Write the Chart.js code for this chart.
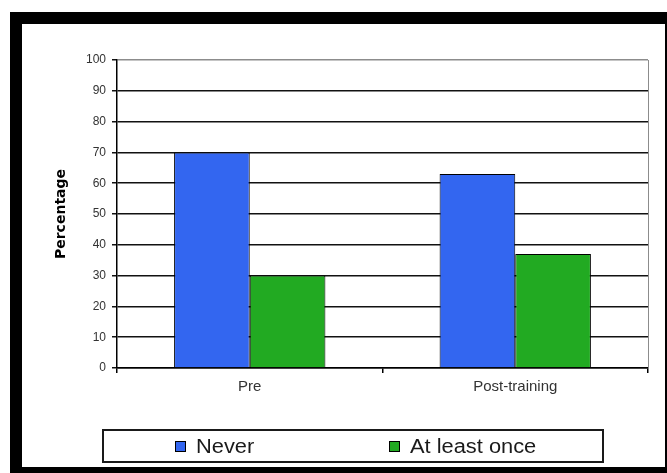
<!DOCTYPE html>
<html>
<head>
<meta charset="utf-8">
<script src="https://cdn.jsdelivr.net/npm/chart.js@4/dist/chart.umd.min.js"></script>
<style>
  html, body { margin: 0; padding: 0; background: #fff; }
  #frame {
    position: absolute; left: 10px; top: 12px;
    width: 643px; height: 443px;
    border-style: solid; border-color: #000;
    border-width: 12px 2px 6px 12px;
    background: #fff;
  }
  #wrap { position: relative; width: 643px; height: 443px; }
</style>
</head>
<body>
<div id="frame"><div id="wrap"><canvas id="c"></canvas></div></div>
<script>
const categories = ["Pre", "Post-training"];
const seriesNames = ["Never", "At least once"];
const neverValues = [70, 63];
const atLeastOnceValues = [30, 37];
const yAxisTitle = "Percentage";
const yMin = 0, yMax = 100, yStep = 10;

const FONT = "'Liberation Sans', Arial, sans-serif";

const framePlugin = {
  id: 'framePlugin',
  afterDraw(chart) {
    const ctx = chart.ctx, a = chart.chartArea;
    ctx.save();
    ctx.strokeStyle = '#8c8c8c';
    ctx.lineWidth = 1;
    ctx.beginPath();
    ctx.moveTo(Math.round(a.right) + 0.5, a.top);
    ctx.lineTo(Math.round(a.right) + 0.5, a.bottom);
    ctx.stroke();

    const boxL = a.left - 14, boxR = a.right - 45;
    const boxT = a.bottom + 62, boxH = 32;
    ctx.strokeStyle = '#1a1a1a';
    ctx.lineWidth = 2;
    ctx.strokeRect(boxL, boxT, boxR - boxL, boxH);
    const offsets = [72, 286];
    chart.data.datasets.forEach((ds, i) => {
      const x = boxL + offsets[i];
      const cy = boxT + boxH / 2 + 1;
      ctx.fillStyle = ds.backgroundColor;
      ctx.fillRect(x, cy - 6, 11, 11);
      ctx.strokeStyle = '#000';
      ctx.lineWidth = 1;
      ctx.strokeRect(x + 0.5, cy - 5.5, 10, 10);
      ctx.save();
      ctx.translate(x + 21, cy + 1);
      ctx.scale(1.12, 1);
      ctx.font = '19.5px ' + FONT;
      ctx.textBaseline = 'middle';
      ctx.textAlign = 'left';
      ctx.fillStyle = '#1a1a1a';
      ctx.fillText(ds.label, 0, 0);
      ctx.restore();
    });
    ctx.restore();
  }
};

new Chart(document.getElementById('c'), {
  type: 'bar',
  data: {
    labels: categories,
    datasets: [
      { label: seriesNames[0], data: neverValues, backgroundColor: '#3366f0', borderColor: '#000', borderWidth: 1 },
      { label: seriesNames[1], data: atLeastOnceValues, backgroundColor: '#22aa22', borderColor: '#000', borderWidth: 1 }
    ]
  },
  options: {
    responsive: true,
    maintainAspectRatio: false,
    animation: false,
    layout: { padding: { left: 31, right: 17, top: 36, bottom: 69 } },
    datasets: { bar: { categoryPercentage: 0.57, barPercentage: 1.0 } },
    plugins: { legend: { display: false }, tooltip: { enabled: false } },
    scales: {
      x: {
        afterFit(s) { s.height = 30; },
        grid: { offset: true, drawOnChartArea: false, color: '#000', tickLength: 5, lineWidth: 1.5 },
        border: { color: '#000', width: 1.5 },
        ticks: { color: '#333', font: { family: FONT, size: 15 }, padding: 5 }
      },
      y: {
        min: yMin, max: yMax,
        afterFit(s) { s.width = 64; },
        ticks: { stepSize: yStep, color: '#333', font: { family: FONT, size: 12 }, padding: 6 },
        grid: {
          color: (c) => (c.tick && c.tick.value === yMax) ? '#8c8c8c' : '#111',
          tickColor: '#111',
          tickLength: 5,
          lineWidth: 1.5
        },
        border: { color: '#000', width: 1.5 },
        title: {
          display: true, text: yAxisTitle, color: '#000',
          font: { family: "'DejaVu Sans', Verdana, sans-serif", size: 14, weight: 'bold' },
          padding: 0
        }
      }
    }
  },
  plugins: [framePlugin]
});
</script>
</body>
</html>
